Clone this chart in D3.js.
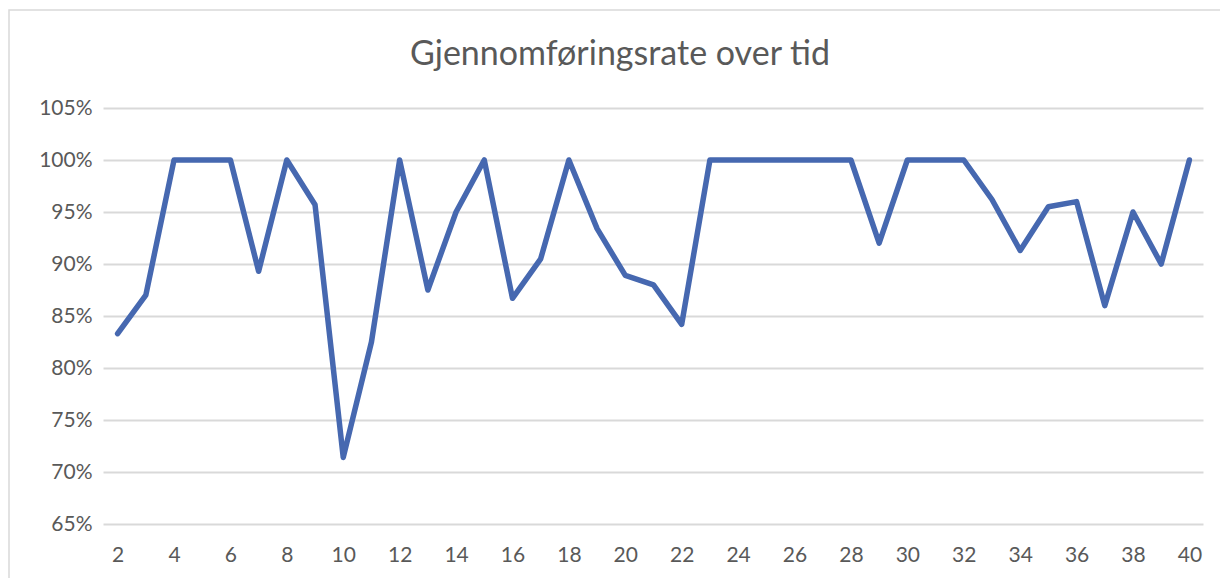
<!DOCTYPE html>
<html>
<head>
<meta charset="utf-8">
<script src="https://cdn.jsdelivr.net/npm/d3@7"></script>
<style>
  body { margin: 0; background: #fff; }
  text { font-family: Lato, "Liberation Sans", sans-serif; fill: #595959; }
</style>
</head>
<body>
<svg id="chart" width="1220" height="578"></svg>
<script>
let width = 1220, height = 578;

// week numbers and completion rate
let weeks = d3.range(2, 41);
let rates = [0.833, 0.870, 1.0, 1.0, 1.0, 0.893, 1.0, 0.957, 0.714, 0.825,
             1.0, 0.875, 0.950, 1.0, 0.867, 0.905, 1.0, 0.934, 0.889, 0.880,
             0.842, 1.0, 1.0, 1.0, 1.0, 1.0, 1.0, 0.920, 1.0, 1.0,
             1.0, 0.962, 0.913, 0.955, 0.960, 0.860, 0.950, 0.900, 1.0];
let yTicks = [0.65, 0.70, 0.75, 0.80, 0.85, 0.90, 0.95, 1.00, 1.05];
let xTicks = weeks.filter((d) => d % 2 === 0);
let title = "Gjennomføringsrate over tid";

let data = weeks.map((w, i) => ({week: w, rate: rates[i]}));

let svg = d3.select('#chart');

// outer chart frame (runs off the right and bottom edge)
svg.append('rect')
    .attr('x', 9)
    .attr('y', 10)
    .attr('width', 1240)
    .attr('height', 600)
    .attr('fill', 'none')
    .attr('stroke', '#d9d9d9')
    .attr('stroke-width', 1.5);

let x = d3.scalePoint()
    .domain(weeks)
    .range([103.5, 1203.5])
    .padding(0.5);

let y = d3.scaleLinear()
    .domain([0.65, 1.05])
    .range([524, 108]);

svg.append('text')
    .attr('x', 620)
    .attr('y', 65)
    .attr('text-anchor', 'middle')
    .style('font-size', '34px')
    .style('font-weight', 400)
    .text(title);

//gridlines + y labels
let yAxis = d3.axisLeft(y)
    .tickValues(yTicks)
    .tickSize(-1100)
    .tickPadding(11)
    .tickFormat(d3.format('.0%'));

svg.append('g')
    .attr('transform', 'translate(103.5,0)')
    .call(yAxis)
    .call((g) => g.select('.domain').remove())
    .call((g) => g.selectAll('.tick line')
        .attr('stroke', '#d9d9d9')
        .attr('stroke-width', 2))
    .call((g) => g.selectAll('.tick text')
        .style('font-size', '21px')
        .attr('fill', '#595959'));

let xAxis = d3.axisBottom(x)
    .tickValues(xTicks)
    .tickSize(0)
    .tickPadding(23);

svg.append('g')
    .attr('transform', 'translate(0,524)')
    .call(xAxis)
    .call((g) => g.select('.domain').remove())
    .call((g) => g.selectAll('.tick text')
        .style('font-size', '21px')
        .attr('fill', '#595959'));

let line = d3.line()
    .x((d) => x(d.week))
    .y((d) => y(d.rate));

svg.append('path')
    .datum(data)
    .attr('d', line)
    .attr('fill', 'none')
    .attr('stroke', '#4668b0')
    .attr('stroke-width', 5.5)
    .attr('stroke-linejoin', 'round')
    .attr('stroke-linecap', 'round');
</script>
</body>
</html>
